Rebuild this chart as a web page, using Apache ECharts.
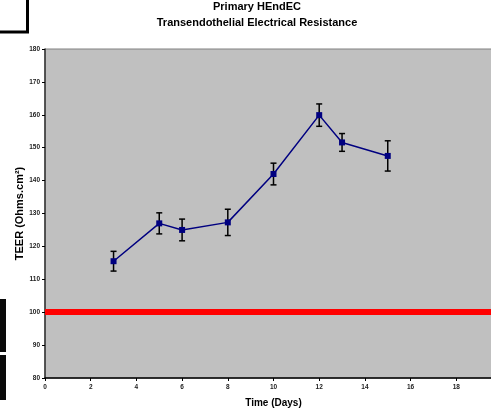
<!DOCTYPE html>
<html>
<head>
<meta charset="utf-8">
<script src="https://cdn.jsdelivr.net/npm/echarts@6/dist/echarts.min.js"></script>
<style>
html,body{margin:0;padding:0;background:#fff;}
#chart{width:491px;height:411px;}
</style>
</head>
<body>
<div id="chart"></div>
<script>
const days = [3, 5, 6, 8, 10, 12, 13, 15];
const teer = [115.5, 127.0, 125.0, 127.3, 142.0, 159.9, 151.6, 147.5];
const teerErr = [3.0, 3.2, 3.3, 4.0, 3.3, 3.4, 2.7, 4.6];
const thresholdValue = 100;
const titleLines = ['Primary HEndEC', 'Transendothelial Electrical Resistance'];

const lineData = days.map((d, i) => [d, teer[i]]);
const errData = days.map((d, i) => [d, teer[i] - teerErr[i], teer[i] + teerErr[i]]);

const chart = echarts.init(document.getElementById('chart'), null, {renderer: 'canvas'});
const font = 'Liberation Sans, Arial, sans-serif';

chart.setOption({
  animation: false,
  backgroundColor: '#ffffff',
  graphic: [
    {type: 'text', x: 257, y: 7, style: {text: titleLines[0], font: 'bold 11px ' + font, fill: '#000', align: 'center', verticalAlign: 'middle'}},
    {type: 'text', x: 257, y: 22.5, style: {text: titleLines[1], font: 'bold 11px ' + font, fill: '#000', align: 'center', verticalAlign: 'middle'}},
    {type: 'rect', shape: {x: 26, y: 0, width: 3, height: 33}, style: {fill: '#000'}},
    {type: 'rect', shape: {x: 0, y: 30.5, width: 29, height: 3}, style: {fill: '#000'}},
    {type: 'rect', shape: {x: 0, y: 299, width: 6, height: 53}, style: {fill: '#0a0a0a'}},
    {type: 'rect', shape: {x: 0, y: 355, width: 6, height: 45}, style: {fill: '#0a0a0a'}}
  ],
  grid: {
    left: 45, top: 49, height: 329, width: 457,
    containLabel: false, outerBoundsMode: 'none',
    show: true, backgroundColor: '#c0c0c0', borderWidth: 1, borderColor: '#808080'
  },
  xAxis: {
    type: 'value', min: 0, max: 20, interval: 2,
    name: 'Time (Days)', nameLocation: 'middle', nameGap: 20, nameMoveOverlap: false,
    nameTextStyle: {fontFamily: font, fontWeight: 'bold', fontSize: 10, color: '#000'},
    axisLine: {show: true, onZero: false, lineStyle: {color: '#000', width: 1.5}},
    axisTick: {show: true, length: 3, lineStyle: {color: '#000'}},
    axisLabel: {fontFamily: font, fontSize: 6.5, fontWeight: 'bold', color: '#222', margin: 6},
    splitLine: {show: false}
  },
  yAxis: {
    type: 'value', min: 80, max: 180, interval: 10,
    name: 'TEER (Ohms.cm²)', nameLocation: 'middle', nameGap: 20, nameMoveOverlap: false,
    nameTextStyle: {fontFamily: font, fontWeight: 'bold', fontSize: 11, color: '#000'},
    axisLine: {show: true, onZero: false, lineStyle: {color: '#333', width: 1.5}},
    axisTick: {show: true, length: 3, lineStyle: {color: '#000'}},
    axisLabel: {fontFamily: font, fontSize: 6.5, fontWeight: 'bold', color: '#222', margin: 5},
    splitLine: {show: false}
  },
  series: [
    {
      type: 'line', data: [], silent: true,
      markLine: {
        silent: true, symbol: ['none', 'none'], label: {show: false},
        lineStyle: {color: '#ff0000', width: 6, type: 'solid'},
        data: [{yAxis: thresholdValue}]
      }
    },
    {
      type: 'line', data: lineData, z: 3,
      lineStyle: {color: '#000080', width: 1.5},
      itemStyle: {color: '#000080'},
      symbol: 'rect', symbolSize: 6
    },
    {
      type: 'custom', data: errData, z: 2,
      renderItem: function (params, api) {
        const x = api.value(0);
        const lo = api.coord([x, api.value(1)]);
        const hi = api.coord([x, api.value(2)]);
        const hw = 3;
        const st = {stroke: '#000', lineWidth: 1.5};
        return {type: 'group', children: [
          {type: 'line', shape: {x1: lo[0], y1: lo[1], x2: hi[0], y2: hi[1]}, style: st},
          {type: 'line', shape: {x1: lo[0] - hw, y1: lo[1], x2: lo[0] + hw, y2: lo[1]}, style: st},
          {type: 'line', shape: {x1: hi[0] - hw, y1: hi[1], x2: hi[0] + hw, y2: hi[1]}, style: st}
        ]};
      }
    }
  ]
});
</script>
</body>
</html>
